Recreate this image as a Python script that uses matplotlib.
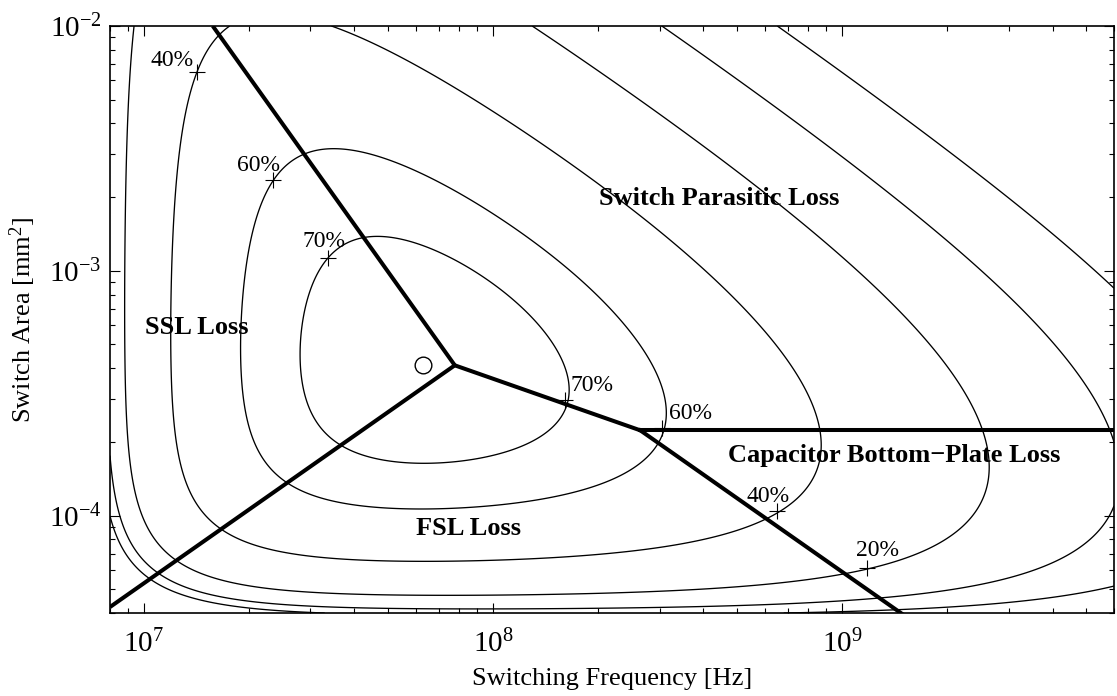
import numpy as np
import matplotlib
matplotlib.use("Agg")
import matplotlib.pyplot as plt
from matplotlib.ticker import LogLocator, NullFormatter

plt.rcParams["font.family"] = ["Liberation Serif", "DejaVu Serif"]
plt.rcParams["mathtext.fontset"] = "custom"
plt.rcParams["mathtext.rm"] = "Liberation Serif"
plt.rcParams["mathtext.it"] = "Liberation Serif:italic"
plt.rcParams["mathtext.bf"] = "Liberation Serif:bold"

# Loss model of the switched-capacitor converter
f_corner = 7.77e7          # Hz: SSL, FSL and switch parasitic losses are equal here
a_corner = 4.11e-4         # mm^2
a_bottom_plate = 2.23e-4   # mm^2: switch parasitic loss equals bottom-plate loss
loss_scale = 0.09          # each loss term, relative to output power, at the corner

freq_range = [8e6, 6e9]       # Hz
area_range = [4e-5, 1e-2]     # mm^2
levels = [0.05, 0.10, 0.20, 0.40, 0.60, 0.70]

# labelled contour points (frequency, area, level)
label_freq = [1.418e7, 2.34e7, 3.36e7, 1.602e8, 3.05e8, 6.52e8, 1.179e9]
label_area = [6.49e-3, 2.34e-3, 1.125e-3, 2.98e-4, 2.27e-4, 1.04e-4, 6.13e-5]
label_level = [0.40, 0.60, 0.70, 0.70, 0.60, 0.40, 0.20]
label_offset_px = [(-25, 11), (-14, 15), (-4, 17), (27, 14), (28, 15), (-9, 15), (10, 17)]

region_names = ["Switch Parasitic Loss", "SSL Loss", "FSL Loss",
                "Capacitor Bottom\u2212Plate Loss"]
region_freq = [4.45e8, 1.418e7, 8.51e7, 1.41e9]
region_area = [1.98e-3, 5.87e-4, 8.85e-5, 1.76e-4]


def loss_terms(f, a):
    u = f / f_corner
    v = a / a_corner
    ssl = loss_scale / u
    fsl = loss_scale / v
    sw = loss_scale * u * v
    bp = loss_scale * (a_bottom_plate / a_corner) * u
    return ssl, fsl, sw, bp


def efficiency(f, a):
    ssl, fsl, sw, bp = loss_terms(f, a)
    return (1.0 - np.hypot(ssl, fsl)) / (1.0 + sw + bp)


F, A = np.meshgrid(np.logspace(np.log10(freq_range[0]), np.log10(freq_range[1]), 700),
                   np.logspace(np.log10(area_range[0]), np.log10(area_range[1]), 700))
ETA = efficiency(F, A)

fig = plt.figure(figsize=(11.17, 6.96), dpi=100)
ax = fig.add_axes([110 / 1117, 1 - 613 / 696, (1114 - 110) / 1117, (613 - 26) / 696])
ax.set_xscale("log")
ax.set_yscale("log")

ax.contour(F, A, ETA, levels=levels, colors="k", linewidths=0.95)

# boundaries between the dominant loss mechanisms
f_bp = f_corner * (a_corner / a_bottom_plate) ** 2
f_top = f_corner * np.sqrt(a_corner / area_range[1])
lw_b = 2.9
fs = np.logspace(np.log10(freq_range[0]), np.log10(f_corner), 50)
ax.plot(fs, a_corner * fs / f_corner, color="k", lw=lw_b, solid_capstyle="butt")        # SSL = FSL
fs = np.logspace(np.log10(f_top), np.log10(f_corner), 50)
ax.plot(fs, a_corner * (f_corner / fs) ** 2, color="k", lw=lw_b, solid_capstyle="butt")  # SSL = switch
fs = np.logspace(np.log10(f_corner), np.log10(f_bp), 50)
ax.plot(fs, a_corner * np.sqrt(f_corner / fs), color="k", lw=lw_b)                       # FSL = switch
fs = np.logspace(np.log10(f_bp), np.log10(freq_range[1]), 50)
ax.plot(fs, a_corner ** 2 * f_corner / (a_bottom_plate * fs), color="k", lw=lw_b)     # FSL = bottom plate
ax.plot([f_bp, freq_range[1]], [a_bottom_plate, a_bottom_plate], color="k", lw=lw_b)  # switch = bottom plate

# peak efficiency
iy, ix = np.unravel_index(np.nanargmax(ETA), ETA.shape)
ax.plot(F[iy, ix], A[iy, ix], "o", mfc="none", mec="k", ms=12, mew=1.0)

# contour labels
for fx, ay, lv, (dx, dy) in zip(label_freq, label_area, label_level, label_offset_px):
    ax.plot(fx, ay, "+", color="k", ms=11, mew=0.8)
    ax.annotate(f"{lv * 100:.0f}%", (fx, ay), xytext=(dx * 0.72, dy * 0.72),
                textcoords="offset points", ha="center", va="center", fontsize=17)

for name, fx, ay in zip(region_names, region_freq, region_area):
    ax.text(fx, ay, name, ha="center", va="center", fontsize=19, fontweight="bold")

ax.set_xlim(freq_range)
ax.set_ylim(area_range)
ax.xaxis.set_major_locator(LogLocator(base=10, numticks=20))
ax.yaxis.set_major_locator(LogLocator(base=10, numticks=20))
ax.xaxis.set_minor_locator(LogLocator(base=10, subs=np.arange(2, 10), numticks=20))
ax.yaxis.set_minor_locator(LogLocator(base=10, subs=np.arange(2, 10), numticks=20))
ax.xaxis.set_minor_formatter(NullFormatter())
ax.yaxis.set_minor_formatter(NullFormatter())
ax.tick_params(which="both", direction="in", top=True, right=True, width=0.8, labelsize=21)
ax.tick_params(which="major", length=7)
ax.tick_params(which="minor", length=3.6)
ax.tick_params(axis="x", which="major", pad=12)
ax.tick_params(axis="y", which="major", pad=6)
for sp in ax.spines.values():
    sp.set_linewidth(1.2)

ax.set_xlabel("Switching Frequency [Hz]", fontsize=19, labelpad=7)
ax.set_ylabel("Switch Area [mm$^2$]", fontsize=19, labelpad=8)

fig.savefig("out.png", dpi=100)
